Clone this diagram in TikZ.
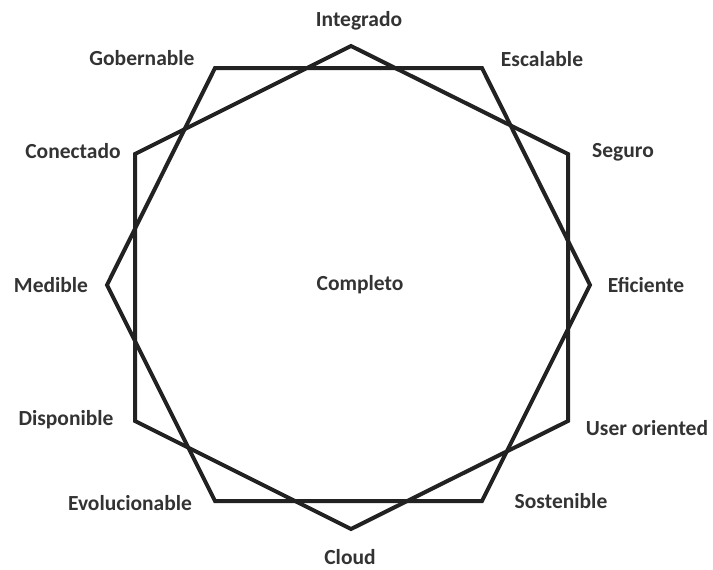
\documentclass[tikz,border=0pt]{standalone}
\usepackage{fontspec}
\setmainfont{Carlito}
\definecolor{linec}{HTML}{222222}
\definecolor{textc}{HTML}{333333}
\begin{document}
\begin{tikzpicture}[x=1pt,y=-1pt,
  lbl/.style={font=\fontsize{21.5}{24}\selectfont\bfseries, text=textc, inner sep=0pt},
  shp/.style={draw=linec, line width=4pt, line join=miter}]
\useasboundingbox (0,0) rectangle (713,570);
% vertices
\coordinate (gob) at (215,68);
\coordinate (esc) at (482,68);
\coordinate (efi) at (590,285);
\coordinate (sos) at (482,501);
\coordinate (evo) at (215,501);
\coordinate (med) at (107,285);
\coordinate (int) at (351,46);
\coordinate (seg) at (568,154);
\coordinate (usr) at (568,421);
\coordinate (clo) at (351,529);
\coordinate (dis) at (135,421);
\coordinate (con) at (135,154);
\draw[shp] (gob) -- (esc) -- (efi) -- (sos) -- (evo) -- (med) -- cycle;
\draw[shp] (int) -- (seg) -- (usr) -- (clo) -- (dis) -- (con) -- cycle;
% labels
\node[lbl] (tInt) at (359,21) {Integrado};
\node[lbl] (tEsc) at (542,59) {Escalable};
\node[lbl] (tSeg) at (623,152) {Seguro};
\node[lbl] (tEfi) at (646,285) {Eficiente};
\node[lbl] (tUsr) at (647,428) {User oriented};
\node[lbl] (tSos) at (561,501) {Sostenible};
\node[lbl] (tClo) at (350,557) {Cloud};
\node[lbl] (tEvo) at (130,503) {Evolucionable};
\node[lbl] (tDis) at (66,420) {Disponible};
\node[lbl] (tMed) at (51,285) {Medible};
\node[lbl] (tCon) at (73,151) {Conectado};
\node[lbl] (tGob) at (142,58) {Gobernable};
\node[lbl] (tCom) at (360,285) {Completo};
\end{tikzpicture}
\end{document}
